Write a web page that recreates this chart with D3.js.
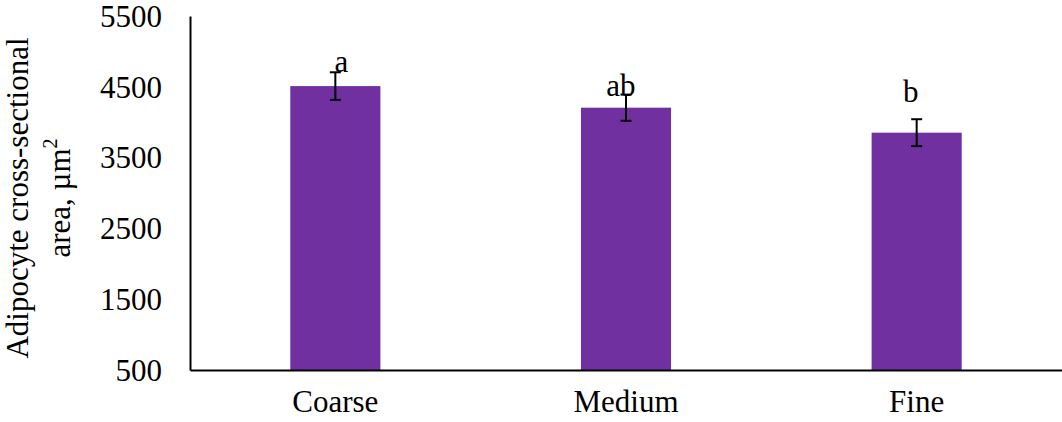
<!DOCTYPE html>
<html>
<head>
<meta charset="utf-8">
<script src="https://cdn.jsdelivr.net/npm/d3@7"></script>
<style>
  html, body { margin: 0; padding: 0; background: #fff; }
  svg { display: block; }
  text { font-family: "Liberation Serif", "Times New Roman", serif; fill: #000; }
</style>
</head>
<body>
<svg id="chart" width="1062" height="422"></svg>
<script>
// Mean adipocyte cross-sectional area by particle size, with SE and letter groups
const categories = ["Coarse", "Medium", "Fine"];
const means = [4510, 4205, 3852];
const errors = [195, 185, 190];
const letters = ["a", "ab", "b"];
const yTicks = [500, 1500, 2500, 3500, 4500, 5500];

const svg = d3.select("#chart");
const plotLeft = 190, plotRight = 1062, plotTop = 16, plotBottom = 370;

const x = d3.scaleBand()
  .domain(categories)
  .range([plotLeft, plotRight])
  .paddingInner(0.69)
  .paddingOuter(0.345);

const y = d3.scaleLinear()
  .domain([500, 5500])
  .range([plotBottom, plotTop]);

// Bars
svg.append("g").selectAll("rect")
  .data(categories)
  .join("rect")
  .attr("x", d => x(d))
  .attr("width", x.bandwidth())
  .attr("y", (d, i) => y(means[i]))
  .attr("height", (d, i) => y(500) - y(means[i]))
  .attr("fill", "#7030A0");

// Error bars
const eb = svg.append("g").attr("stroke", "#000").attr("stroke-width", 2);
categories.forEach((c, i) => {
  const cx = x(c) + x.bandwidth() / 2;
  const y0 = y(means[i] - errors[i]), y1 = y(means[i] + errors[i]);
  eb.append("line").attr("x1", cx).attr("x2", cx).attr("y1", y0).attr("y2", y1);
  eb.append("line").attr("x1", cx - 5.5).attr("x2", cx + 5.5).attr("y1", y0).attr("y2", y0);
  eb.append("line").attr("x1", cx - 5.5).attr("x2", cx + 5.5).attr("y1", y1).attr("y2", y1);
});

// Significance letters, nudged the way they sit over each bar
const letterOffsets = [[6, 0], [-5, 1], [-6, -17]];
svg.append("g").selectAll("text")
  .data(letters)
  .join("text")
  .attr("x", (d, i) => x(categories[i]) + x.bandwidth() / 2 + letterOffsets[i][0])
  .attr("y", (d, i) => y(means[i] + errors[i]) + letterOffsets[i][1])
  .attr("text-anchor", "middle")
  .attr("font-size", 31)
  .text(d => d);

// Y axis
const yAxis = svg.append("g")
  .attr("transform", `translate(${plotLeft},0)`)
  .call(d3.axisLeft(y).tickValues(yTicks).tickSize(0).tickPadding(28).tickFormat(d3.format("d")));
yAxis.select(".domain").attr("stroke", "#000").attr("stroke-width", 2);
yAxis.selectAll("text").attr("font-size", 31).attr("font-family", "Liberation Serif").attr("dy", "0.33em");

// X axis
const xAxis = svg.append("g")
  .attr("transform", `translate(0,${plotBottom})`)
  .call(d3.axisBottom(x).tickSize(0).tickPadding(20));
xAxis.select(".domain").attr("stroke", "#000").attr("stroke-width", 2);
xAxis.selectAll("text").attr("font-size", 31).attr("font-family", "Liberation Serif").attr("dy", "0.71em");

// Y axis title (two lines)
const title = svg.append("text")
  .attr("transform", "translate(0,198) rotate(-90)")
  .attr("text-anchor", "middle")
  .attr("font-size", 31);
title.append("tspan").attr("x", 0).attr("y", 28).text("Adipocyte cross-sectional");
title.append("tspan").attr("x", 0).attr("y", 70).text("area, \u00b5m");
title.append("tspan").attr("font-size", 20).attr("dy", -13).text("2");
</script>
</body>
</html>
